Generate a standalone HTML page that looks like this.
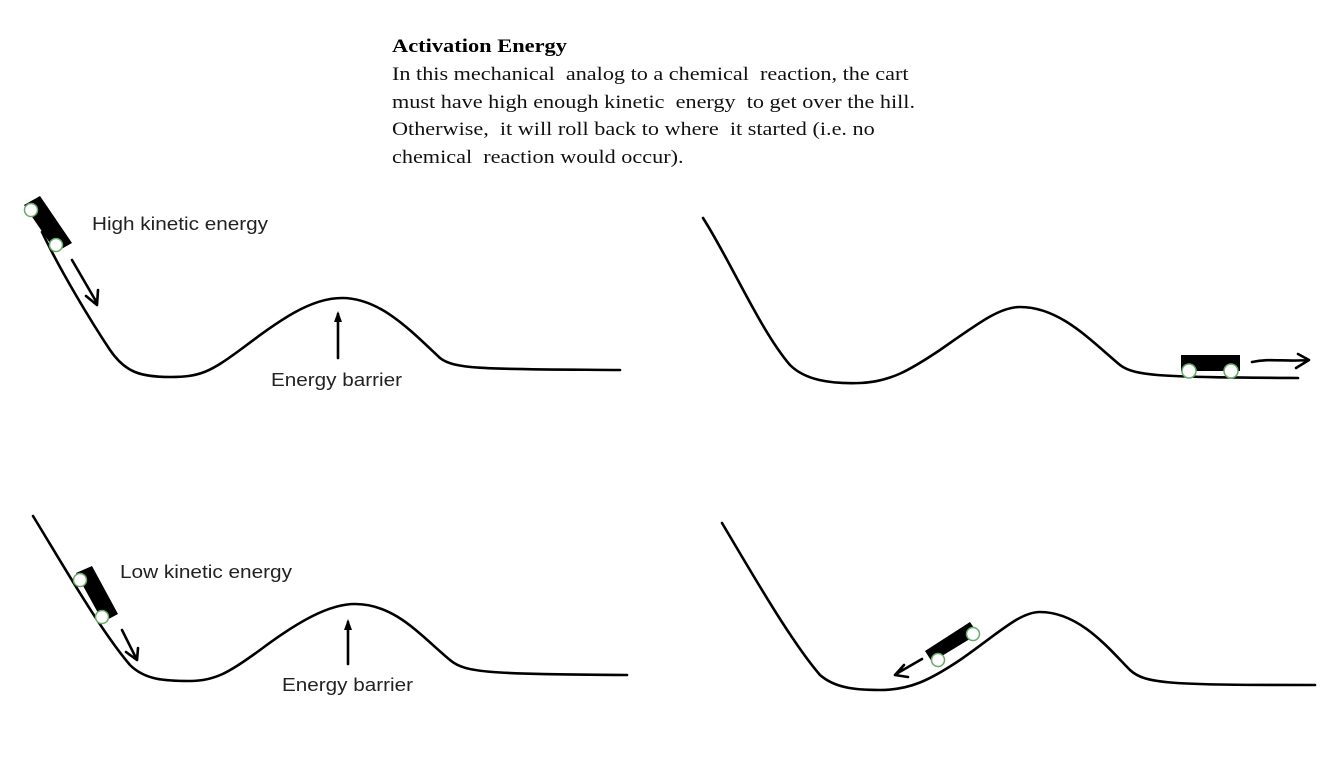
<!DOCTYPE html>
<html><head><meta charset="utf-8"><style>
html,body{margin:0;padding:0;background:#fff;width:1320px;height:772px;overflow:hidden}
.t{position:absolute;font-family:"Liberation Serif",serif;font-size:18.5px;color:#111;line-height:27.5px;left:392px;top:62px;white-space:nowrap;transform:scaleX(1.2);transform-origin:0 0}
.h{position:absolute;font-family:"Liberation Serif",serif;font-weight:bold;font-size:19px;left:392px;top:36px;transform:scaleX(1.18);transform-origin:0 0}
.s{font-family:"Liberation Sans","DejaVu Sans",sans-serif;font-size:18px;fill:#222}
</style></head><body>
<div class="h">Activation Energy</div>
<div class="t">In this mechanical&nbsp; analog to a chemical&nbsp; reaction, the cart<br>must have high enough kinetic&nbsp; energy&nbsp; to get over the hill.<br>Otherwise,&nbsp; it will roll back to where&nbsp; it started (i.e. no<br>chemical&nbsp; reaction would occur).</div>
<svg width="1320" height="772" style="position:absolute;left:0;top:0" xmlns="http://www.w3.org/2000/svg">
<g fill="none" stroke="#000" stroke-width="2.6" stroke-linecap="round" stroke-linejoin="round">
<path d="M42,232 C60,270 90,320 110,350 C125,372 140,377 170,377 C200,377 210,372 240,350 C280,320 310,298 342,298 C380,298 410,330 440,358 C455,370 490,369 620,370"/>
<path d="M703,218 C730,260 760,330 790,365 C805,380 830,384 860,383 C890,382 910,370 940,350 C980,322 1000,307 1020,307 C1060,307 1090,340 1120,365 C1135,377 1170,377 1298,378"/>
<path d="M33,516 C60,560 100,630 130,665 C145,680 165,681 190,681 C215,681 230,672 260,650 C300,620 330,604 355,604 C395,604 420,635 450,660 C465,673 490,674 627,675"/>
<path d="M722,523 C750,570 790,640 820,675 C835,688 855,690 880,690 C910,690 930,680 960,660 C1000,632 1020,612 1040,612 C1080,612 1110,650 1130,670 C1145,684 1170,685 1315,685"/>
<path d="M72,260 L97,303 M86,296 L97,305 L98,290"/>
<path d="M338,358 L338,314"/>
<path d="M1252,362 C1270,358 1285,362 1308,360 M1298,354 L1309,360 L1296,368"/>
<path d="M122,630 L136,658 M126,652 L137,660 L138,648"/>
<path d="M348,664 L348,622"/>
<path d="M922,659 L896,674 M904,665 L895,675 L908,677"/>
</g>
<g stroke="none" fill="#000">
<polygon points="338,311 334,322 342,322"/>
<polygon points="348,619 344,630 352,630"/>
<polygon points="24,205 40,196 72,243 56,252"/>
<rect x="1181" y="355" width="59" height="16"/>
<polygon points="76,573 92,566 118,614 103,622"/>
<polygon points="925,651 970,622 978,634 932,662"/>
</g>
<g fill="#fff" stroke="#6a6" stroke-width="1.5">
<circle cx="31" cy="210" r="6.5"/><circle cx="56" cy="245" r="6.5"/>
<circle cx="1189" cy="371" r="7"/><circle cx="1231" cy="371" r="7"/>
<circle cx="80" cy="580" r="6.5"/><circle cx="102" cy="617" r="6.5"/>
<circle cx="938" cy="660" r="6.5"/><circle cx="973" cy="634" r="6.5"/>
</g>
<text class="s" x="92" y="230" textLength="176" lengthAdjust="spacingAndGlyphs">High kinetic energy</text>
<text class="s" x="271" y="386" textLength="131" lengthAdjust="spacingAndGlyphs">Energy barrier</text>
<text class="s" x="120" y="578" textLength="172" lengthAdjust="spacingAndGlyphs">Low kinetic energy</text>
<text class="s" x="282" y="691" textLength="131" lengthAdjust="spacingAndGlyphs">Energy barrier</text>
</svg>
</body></html>
